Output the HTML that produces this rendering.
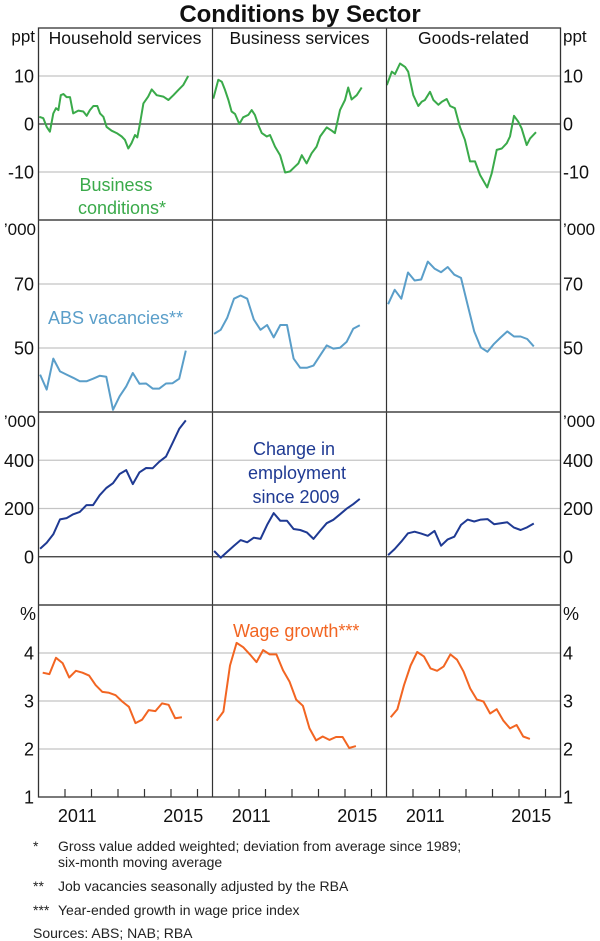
<!DOCTYPE html>
<html><head><meta charset="utf-8"><style>
html,body{margin:0;padding:0;background:#fff;}
svg{display:block;font-family:"Liberation Sans",Arial,sans-serif;}
</style></head><body>
<svg id="chart" width="600" height="941" viewBox="0 0 600 941" xmlns="http://www.w3.org/2000/svg">
<text x="300" y="22" text-anchor="middle" font-size="24" font-weight="bold" fill="#111">Conditions by Sector</text>
<g id="grid"></g>
<g id="marks"></g>
<g id="frame"></g>
<g id="labels"></g>
<text x="125" y="44" text-anchor="middle" font-size="17.5" fill="#111">Household services</text>
<text x="299.5" y="44" text-anchor="middle" font-size="17.5" fill="#111">Business services</text>
<text x="473.5" y="44" text-anchor="middle" font-size="17.5" fill="#111">Goods-related</text>
<text x="116" y="191" text-anchor="middle" font-size="18" fill="#3aaa4a">Business</text>
<text x="122" y="214" text-anchor="middle" font-size="18" fill="#3aaa4a">conditions*</text>
<text x="48" y="324" font-size="18" fill="#5a9ec9">ABS vacancies**</text>
<text x="294" y="455" text-anchor="middle" font-size="18" fill="#1f3a93">Change in</text>
<text x="297" y="479" text-anchor="middle" font-size="18" fill="#1f3a93">employment</text>
<text x="296" y="503" text-anchor="middle" font-size="18" fill="#1f3a93">since 2009</text>
<text x="233" y="637" font-size="18" fill="#f26522">Wage growth***</text>
<g font-size="14" fill="#222">
<text x="33" y="851">*</text><text x="58" y="851">Gross value added weighted; deviation from average since 1989;</text>
<text x="58" y="867">six-month moving average</text>
<text x="33" y="891">**</text><text x="58" y="891">Job vacancies seasonally adjusted by the RBA</text>
<text x="33" y="915">***</text><text x="58" y="915">Year-ended growth in wage price index</text>
<text x="33" y="938">Sources:  ABS; NAB; RBA</text>
</g>
</svg>
<script>
// Business conditions (monthly-ish, ppt)
const bcHouseDates=[2010.03,2010.18,2010.31,2010.43,2010.56,2010.66,2010.75,2010.84,2010.94,2011.06,2011.19,2011.31,2011.5,2011.69,2011.82,2011.94,2012.07,2012.22,2012.32,2012.45,2012.57,2012.76,2012.95,2013.14,2013.26,2013.39,2013.51,2013.64,2013.73,2013.83,2013.96,2014.14,2014.27,2014.46,2014.71,2014.9,2015.09,2015.28,2015.46,2015.65];
const bcHouse=[1.5,1.2,-0.6,-1.6,2.2,3.3,2.9,6.0,6.25,5.6,5.6,2.2,2.8,2.6,1.7,2.9,3.75,3.75,2.2,1.5,-0.6,-1.4,-1.9,-2.6,-3.3,-5.1,-4.0,-2.3,-2.8,0.1,4.3,5.7,7.2,6.0,5.7,5.0,6.0,7.1,8.1,10.0];
const bcBusDates=[2010.03,2010.22,2010.35,2010.47,2010.6,2010.72,2010.85,2011.01,2011.16,2011.35,2011.48,2011.6,2011.73,2011.86,2012.05,2012.17,2012.36,2012.55,2012.74,2012.92,2013.11,2013.24,2013.37,2013.55,2013.74,2013.93,2014.06,2014.31,2014.5,2014.62,2014.81,2015.0,2015.12,2015.25,2015.44,2015.63];
const bcBus=[5.3,9.2,8.8,7.1,5.0,2.6,2.1,0,1.4,1.9,2.9,1.9,-0.2,-1.9,-2.6,-2.3,-4.7,-6.5,-10.1,-9.9,-8.9,-8.2,-6.5,-8.2,-6.1,-4.7,-2.6,-0.7,-1.4,-1.9,2.9,5.0,7.6,5.1,6.0,7.6];
const bcGoodsDates=[2010.01,2010.2,2010.32,2010.51,2010.7,2010.82,2011.01,2011.2,2011.33,2011.45,2011.64,2011.77,2011.96,2012.09,2012.27,2012.4,2012.58,2012.77,2012.96,2013.15,2013.34,2013.53,2013.8,2013.97,2014.16,2014.35,2014.54,2014.66,2014.81,2014.97,2015.1,2015.29,2015.42,2015.64];
const bcGoods=[8.1,10.9,10.4,12.6,11.9,10.9,6.0,3.75,4.65,5.0,6.7,5.0,4.0,4.65,5.2,3.75,3.3,-0.6,-3.3,-7.8,-7.8,-10.6,-13.2,-10.3,-5.4,-5.1,-4.0,-2.6,1.7,0.5,-0.9,-4.4,-3.0,-1.7];
// Vacancies ('000, quarterly)
const vacStart=2010.06;
const vacHouse=[41.7,37,46.7,42.7,41.7,40.7,39.6,39.6,40.4,41.3,41,30.7,34.9,38,42.2,38.8,38.9,37.3,37.3,38.9,39,40.4,49.2];
const vacBus=[54.4,55.7,59.5,65.4,66.4,65.4,58.9,55.7,57.2,53.3,57.2,57.2,46.7,43.8,43.8,44.5,47.7,50.8,49.8,50.1,51.9,56,57.1];
const vacGoods=[63.7,68.2,65.4,73.6,71.1,71.4,77,74.8,73.7,75.3,72.9,71.9,63.5,55.2,50.2,48.8,51.3,53.3,55.2,53.6,53.6,52.8,50.5];
// Employment change since 2009 ('000, quarterly)
const empStart=2010.06;
const empHouse=[33,58,93,155,160,176,186,214,214,255,285,305,343,359,301,350,368,367,394,415,472,530,565];
const empBus=[24,-4,21,46,69,60,79,74,132,181,149,149,115,111,101,74,107,139,153,176,199,218,240];
const empGoods=[7,32,63,97,104,96,87,107,46,72,83,132,154,146,154,156,135,139,143,121,111,122,138];
// Wage growth (%, quarterly)
const wageStart=2010.16;
const wageHouse=[3.59,3.56,3.9,3.79,3.49,3.63,3.59,3.53,3.33,3.19,3.17,3.12,2.99,2.88,2.54,2.61,2.81,2.79,2.95,2.92,2.64,2.66];
const wageBus=[2.59,2.78,3.74,4.21,4.12,3.97,3.81,4.06,3.97,3.97,3.64,3.4,3.03,2.9,2.43,2.18,2.26,2.19,2.25,2.25,2.02,2.06];
const wageGoods=[2.66,2.83,3.33,3.74,4.02,3.93,3.68,3.63,3.72,3.97,3.86,3.61,3.26,3.03,2.99,2.74,2.83,2.59,2.43,2.5,2.26,2.21];
// Tick labels
const row1Ticks=[10,0,-10];
const row2Ticks=[70,50];
const row3Ticks=[400,200,0];
const row4Ticks=[4,3,2,1];
const yearTicks=[2011,2012,2013,2014,2015,2016];
const yearLabels=[2011,2015];

const NS='http://www.w3.org/2000/svg';
const L=38.5, W=174, yearPx=26.5, x0Year=2010;
const colX=[38.5,212.5,386.5];
const rows=[{top:28,bot:220,min:-20,max:20,unit:'ppt'},{top:220,bot:412,min:30,max:90,unit:'\u2019000'},{top:412,bot:605,min:-200,max:600,unit:'\u2019000'},{top:605,bot:797,min:1,max:5,unit:'%'}];
function xs(col,yr){return colX[col]+(yr-x0Year)*yearPx;}
function ys(r,v){const R=rows[r];return R.bot-(v-R.min)/(R.max-R.min)*(R.bot-R.top);}
function mk(tag,attrs,parent){const e=document.createElementNS(NS,tag);for(const k in attrs)e.setAttribute(k,attrs[k]);parent.appendChild(e);return e;}
const grid=document.getElementById('grid'),marks=document.getElementById('marks'),frame=document.getElementById('frame'),labels=document.getElementById('labels');
const allTicks=[row1Ticks,row2Ticks,row3Ticks,row4Ticks];
allTicks.forEach((tk,r)=>{
  tk.forEach(v=>{
    const y=ys(r,v);
    const zero=(v===0);
    if(y<rows[r].bot-1){
      const ln=mk('line',{x1:L,x2:L+3*W,y1:y,y2:y,stroke:zero?'#333':'#c4c4c4','stroke-width':1.2},grid);
      
      
    }
    const t1=mk('text',{x:34,y:y+6.5,'text-anchor':'end','font-size':18,fill:'#111'},labels);t1.textContent=v;
    
    
    const t2=mk('text',{x:563,y:y+6.5,'font-size':18,fill:'#111'},labels);t2.textContent=v;
    
    
  });
  const u1=mk('text',{x:r===0?35:36,y:rows[r].top+(r===0?14:15),'text-anchor':'end','font-size':r===3?18:17,fill:'#111'},labels);u1.textContent=rows[r].unit;
  
  
  const u2=mk('text',{x:563,y:rows[r].top+(r===0?14:15),'font-size':r===3?18:17,fill:'#111'},labels);u2.textContent=rows[r].unit;
  
  
});
function line(col,r,dates,vals,color,name){
  const pts=vals.map((v,i)=>xs(col,dates[i]).toFixed(1)+','+ys(r,v).toFixed(1)).join(' ');
  const p=mk('polyline',{points:pts,fill:'none',stroke:color,'stroke-width':2,'stroke-linejoin':'round'},marks);
  
  
}
function q(start,vals){return vals.map((v,i)=>start+0.25*i);}
const green='#3aaa4a',blue='#5a9ec9',navy='#1f3a93',orange='#f26522';
line(0,0,bcHouseDates,bcHouse,green,'business-conditions-household');
line(1,0,bcBusDates,bcBus,green,'business-conditions-business');
line(2,0,bcGoodsDates,bcGoods,green,'business-conditions-goods');
line(0,1,q(vacStart,vacHouse),vacHouse,blue,'vacancies-household');
line(1,1,q(vacStart,vacBus),vacBus,blue,'vacancies-business');
line(2,1,q(vacStart,vacGoods),vacGoods,blue,'vacancies-goods');
line(0,2,q(empStart,empHouse),empHouse,navy,'employment-household');
line(1,2,q(empStart,empBus),empBus,navy,'employment-business');
line(2,2,q(empStart,empGoods),empGoods,navy,'employment-goods');
line(0,3,q(wageStart,wageHouse),wageHouse,orange,'wages-household');
line(1,3,q(wageStart,wageBus),wageBus,orange,'wages-business');
line(2,3,q(wageStart,wageGoods),wageGoods,orange,'wages-goods');
// frame
const fr=mk('rect',{x:L,y:28,width:3*W,height:797-28,fill:'none',stroke:'#333','stroke-width':1.3},frame);


[1,2].forEach(c=>{const v=mk('line',{x1:colX[c],x2:colX[c],y1:28,y2:797,stroke:'#333','stroke-width':1.2},frame);
  
  });
[1,2,3].forEach(r=>{const h=mk('line',{x1:L,x2:L+3*W,y1:rows[r].top,y2:rows[r].top,stroke:'#444','stroke-width':1.6},frame);
  
  });
for(let c=0;c<3;c++){
  yearTicks.forEach(yr=>{const x=xs(c,yr);if(x<colX[c]+W-1){const t=mk('line',{x1:x,x2:x,y1:797,y2:789,stroke:'#333','stroke-width':1.2},frame);
    
    }});
  yearLabels.forEach(yr=>{const t=mk('text',{x:xs(c,yr+0.5)-1,y:822,'text-anchor':'middle','font-size':18,fill:'#111'},labels);t.textContent=yr;
    
    });
}
</script>
</body></html>
